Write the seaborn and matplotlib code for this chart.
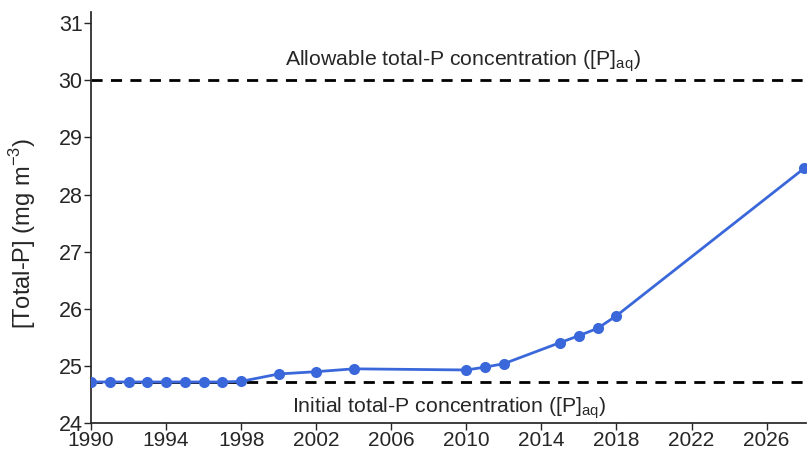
import matplotlib
matplotlib.use("Agg")
import matplotlib.pyplot as plt
import seaborn as sns
import pandas as pd

anni = [1990, 1991, 1992, 1993, 1994, 1995, 1996, 1997, 1998,
        2000, 2002, 2004, 2010, 2011, 2012, 2015, 2016, 2017, 2018, 2028]
total_p = [24.72, 24.72, 24.72, 24.72, 24.72, 24.72, 24.72, 24.72, 24.73,
           24.86, 24.90, 24.95, 24.93, 24.98, 25.04, 25.41, 25.53, 25.66, 25.88, 28.46]
p_iniziale = 24.72
p_ammissibile = 30.0
x_ticks = list(range(1990, 2027, 4))
y_ticks = list(range(24, 32))

sns.set_theme(style="ticks")
plt.rcParams["font.family"] = ["Liberation Sans", "DejaVu Sans"]
plt.rcParams["mathtext.fontset"] = "custom"
plt.rcParams["mathtext.rm"] = "Liberation Sans"

df = pd.DataFrame({"anno": anni, "total_p": total_p})

fig = plt.figure(figsize=(8.08, 4.53), dpi=100)
ax = fig.add_axes([0.1126, 0.066, 0.885, 0.908])

ax.axhline(p_ammissibile, color="black", linestyle=(0, (4, 3)), linewidth=2, zorder=1)
ax.axhline(p_iniziale, color="black", linestyle=(0, (4, 3)), linewidth=2, zorder=1)

sns.lineplot(data=df, x="anno", y="total_p", ax=ax, color="#3a68da",
             marker="o", markersize=8, markeredgewidth=0, linewidth=2, zorder=3)

ax.text(2009.8, 30.33, "Allowable total-P concentration ([P]$_{\\mathrm{aq}}$)",
        ha="center", va="center", fontsize=15.3)
ax.text(2009.1, 24.27, "Initial total-P concentration ([P]$_{\\mathrm{aq}}$)",
        ha="center", va="center", fontsize=15.3)

ax.set_xlim(1990, 2028.1)
ax.set_ylim(24, 31.2)
ax.set_xticks(x_ticks)
ax.set_yticks(y_ticks)
ax.tick_params(labelsize=15.5, length=5, width=1, pad=1)
ax.tick_params(axis="x", labelsize=15, pad=1)
ax.set_xlabel("")
ax.set_ylabel("[Total-P] (mg m$^{-3}$)", fontsize=17)
ax.yaxis.set_label_coords(-0.074, 0.46)
sns.despine(ax=ax)

fig.savefig("out.png", dpi=100)
